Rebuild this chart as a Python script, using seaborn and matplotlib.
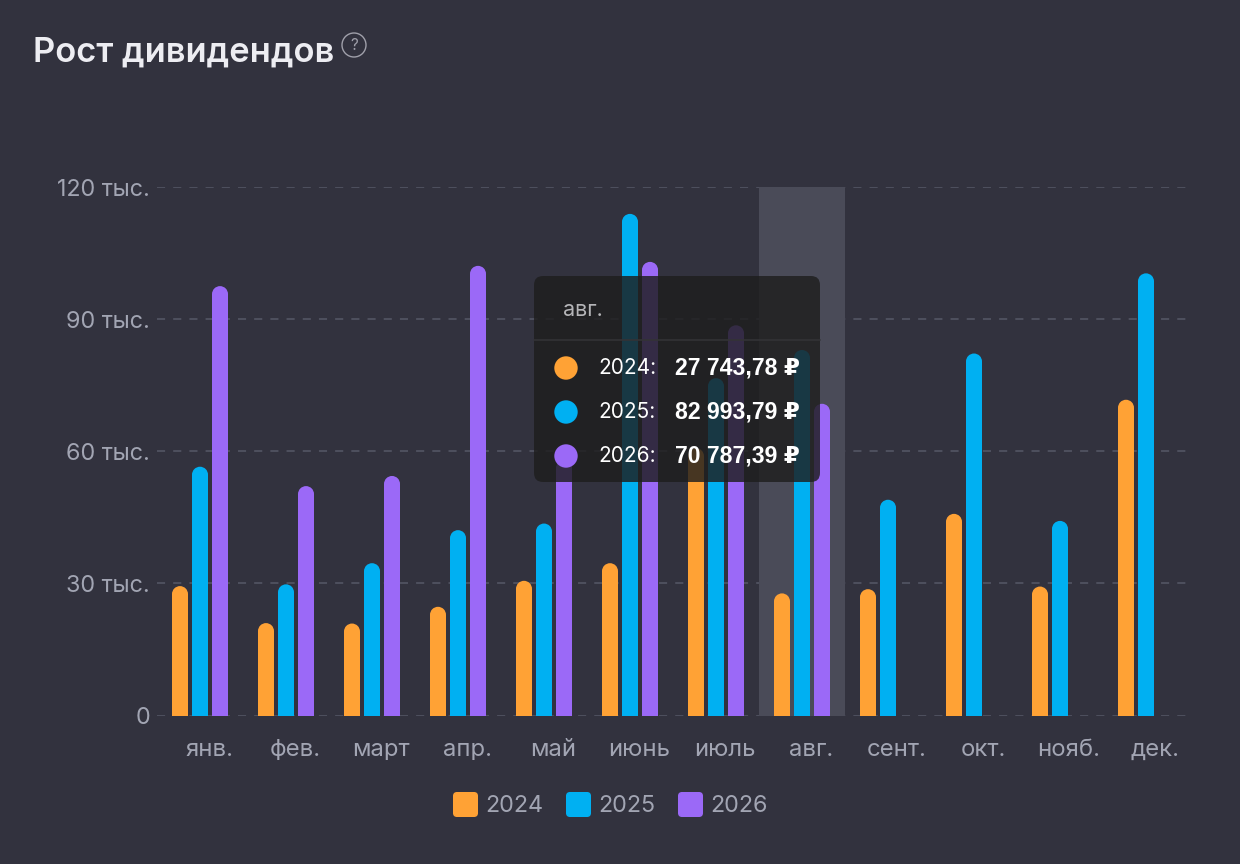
import numpy as np
import pandas as pd
import matplotlib
matplotlib.use("Agg")
import matplotlib.pyplot as plt
import seaborn as sns
from matplotlib.patches import Ellipse, FancyBboxPatch, Circle
from matplotlib.lines import Line2D
from matplotlib.ticker import FuncFormatter
from matplotlib.transforms import ScaledTranslation

# data
months = ["янв.", "фев.", "март", "апр.", "май", "июнь", "июль",
          "авг.", "сент.", "окт.", "нояб.", "дек."]
years = ["2024", "2025", "2026"]
vals_2024 = [29400, 21000, 20900, 24700, 30600, 34600, 60700,
             27743.78, 28700, 45800, 29300, 71700]
vals_2025 = [56500, 29800, 34600, 42100, 43600, 113900, 76600,
             82993.79, 49000, 82200, 44200, 100400]
vals_2026 = [97500, 52100, 54400, 102100, 58000, 103000, 88600,
             70787.39, np.nan, np.nan, np.nan, np.nan]
y_ticks = [0, 30000, 60000, 90000, 120000]
hover_month = "авг."

BG = "#32323e"
COLORS = ["#ffa235", "#00b0f2", "#9b69f7"]
TICK_C = "#a2a5b3"

df = pd.DataFrame({
    "month": months * 3,
    "year": np.repeat(years, len(months)),
    "value": vals_2024 + vals_2025 + vals_2026,
}).dropna()

sns.set_style("white")
plt.rcParams["font.family"] = ["Inter", "DejaVu Sans"]

fig = plt.figure(figsize=(12.4, 8.64), dpi=100, facecolor=BG)
ax = fig.add_axes([157 / 1240, 148.4 / 864, 1032 / 1240, 528.6 / 864])
ax.set_facecolor(BG)

sns.barplot(data=df, x="month", y="value", hue="year", order=months,
            hue_order=years, palette=COLORS, width=0.698, gap=0.2,
            errorbar=None, saturation=1, linewidth=0, legend=False, ax=ax)

ax.set_xlim(-0.5, 11.5)
ax.set_ylim(0, 120000)

# rounded tops
px_y = 120000 / 528.6
for cont in ax.containers:
    for bar in cont:
        h = bar.get_height()
        if not h or np.isnan(h):
            continue
        w = bar.get_width()
        ry = 8 * px_y
        bar.set_height(h - ry)
        ax.add_patch(Ellipse((bar.get_x() + w / 2, h - ry), w, 2 * ry,
                             facecolor=bar.get_facecolor(), lw=0,
                             zorder=bar.get_zorder()))

# hovered month band
hi = months.index(hover_month)
ax.axvspan(hi - 0.5, hi + 0.5, color="#4a4b58", lw=0, zorder=0.8)

ax.set_yticks(y_ticks)
ax.yaxis.set_major_formatter(FuncFormatter(
    lambda v, p: "0" if v == 0 else f"{int(v / 1000)} тыс."))
ax.grid(True, axis="y", color="#565867", lw=1.1, linestyle=(0, (5.3, 5.3)))
ax.grid(False, axis="x")
ax.set_axisbelow(True)
for s in ax.spines.values():
    s.set_visible(False)
ax.set_xlabel("")
ax.set_ylabel("")
ax.tick_params(axis="y", length=0, pad=5, labelsize=16.8, labelcolor=TICK_C)
ax.tick_params(axis="x", length=0, pad=17, labelsize=17.2, labelcolor=TICK_C)
for lab in ax.get_xticklabels():
    lab.set_transform(lab.get_transform() + ScaledTranslation(0.09, 0, fig.dpi_scale_trans))

# legend with rounded squares
sq = FancyBboxPatch((-0.5, -0.5), 1, 1,
                    boxstyle="round,pad=0,rounding_size=0.14").get_path()
handles = [Line2D([], [], lw=0, marker=sq, markersize=17, color=c) for c in COLORS]
fig.legend(handles, years, loc="center", bbox_to_anchor=(611 / 1240, 1 - 806 / 864),
           ncol=3, frameon=False, handlelength=0.95, handletextpad=0.4,
           columnspacing=1.0, fontsize=16.8, labelcolor=TICK_C)

# overlay in pixel units for title and tooltip
ov = fig.add_axes([0, 0, 1, 1])
ov.set_xlim(0, 1240)
ov.set_ylim(864, 0)
ov.axis("off")
ov.patch.set_alpha(0)

ov.text(33, 53, "Рост дивидендов", fontsize=24.8, weight="semibold",
        color="#ededf2", va="center", ha="left")
ov.add_patch(Circle((354, 45), 12, fill=False, ec="#a0a0aa", lw=1))
ov.text(354, 45.5, "?", fontsize=11, color="#a0a0aa", ha="center", va="center")

ov.add_patch(FancyBboxPatch((534, 276), 286, 206,
                            boxstyle="round,pad=0,rounding_size=9",
                            fc="#1e1e1e", ec="none", alpha=0.82))
ov.plot([534, 820], [340, 340], color="#333336", lw=1.2)
ov.text(563, 310, hover_month, fontsize=15.5, color="#b5b5b8", va="center")
hover_vals = [vals_2024[hi], vals_2025[hi], vals_2026[hi]]
for i, (yr, v, c) in enumerate(zip(years, hover_vals, COLORS)):
    ry = 368 + i * 44
    ov.add_patch(Circle((566, ry), 11.7, color=c, lw=0))
    ov.text(598, ry, f"{yr}:", fontsize=15, color="white", va="center")
    s = f"{v:,.2f}".replace(",", " ").replace(".", ",") + " ₽"
    ov.text(675, ry, s, fontsize=16.6, color="white", weight="bold", va="center",
            family=["Liberation Sans", "DejaVu Sans"])

fig.savefig("out.png", dpi=100, facecolor=BG)
